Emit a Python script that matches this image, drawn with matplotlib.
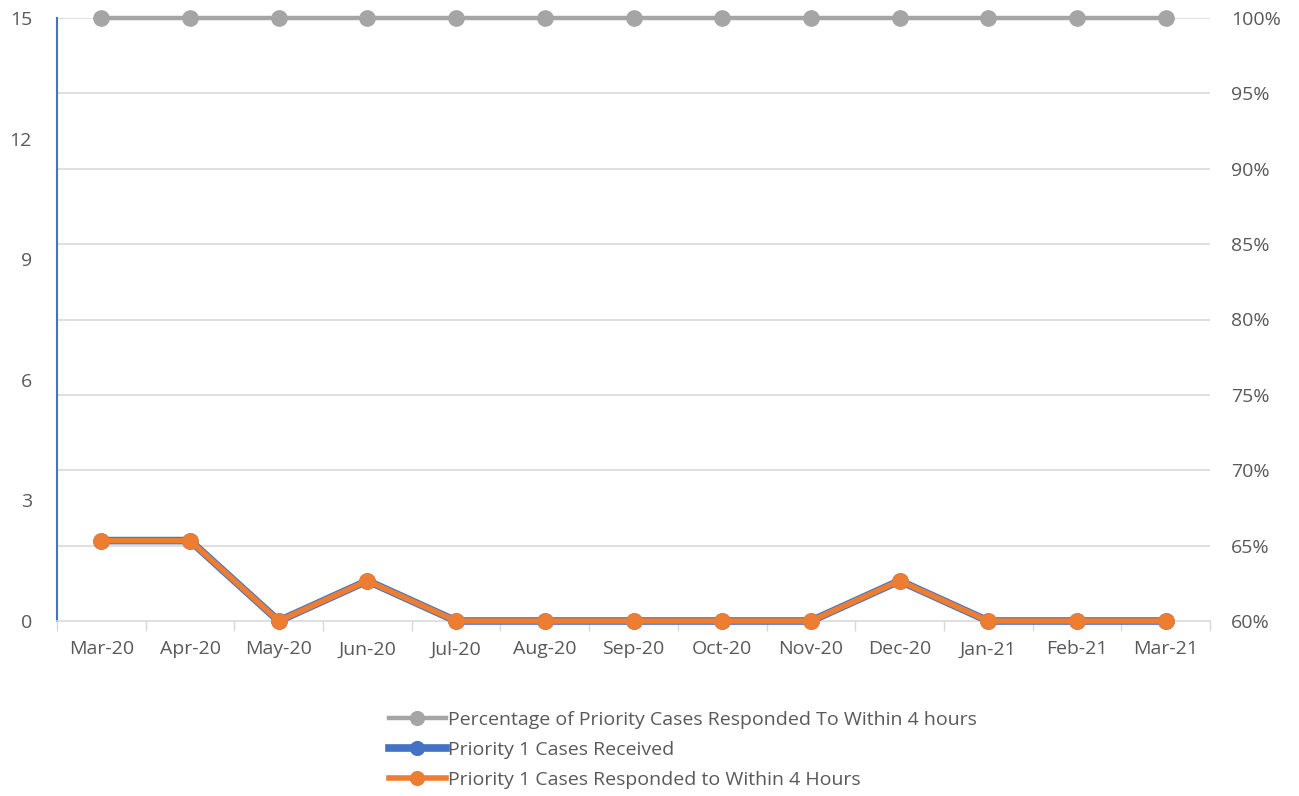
import matplotlib.pyplot as plt
import numpy as np

months = ["Mar-20", "Apr-20", "May-20", "Jun-20", "Jul-20", "Aug-20", "Sep-20",
          "Oct-20", "Nov-20", "Dec-20", "Jan-21", "Feb-21", "Mar-21"]
received = [2, 2, 0, 1, 0, 0, 0, 0, 0, 1, 0, 0, 0]
responded = [2, 2, 0, 1, 0, 0, 0, 0, 0, 1, 0, 0, 0]
pct = [100] * 13

plt.rcParams['font.family'] = ['Open Sans', 'DejaVu Sans']
txt = '#595959'

fig = plt.figure(figsize=(12.99, 7.96), dpi=100)
ax = fig.add_axes([57 / 1299, 1 - 621 / 796, (1210 - 57) / 1299, (621 - 18) / 796])
ax2 = ax.twinx()

x = np.arange(len(months))
l2, = ax.plot(x, received, color='#4472C4', lw=5.5, marker='o', ms=11, zorder=3,
              clip_on=False, label='Priority 1 Cases Received')
l3, = ax.plot(x, responded, color='#ED7D31', lw=4, marker='o', ms=11, zorder=4,
              clip_on=False, label='Priority 1 Cases Responded to Within 4 Hours')
l1, = ax2.plot(x, pct, color='#A5A5A5', lw=3.2, marker='o', ms=11, zorder=3,
               clip_on=False, label='Percentage of Priority Cases Responded To Within 4 hours')

ax.set_xlim(-0.5, len(months) - 0.5)
ax.set_ylim(0, 15)
ax.set_yticks([0, 3, 6, 9, 12, 15])
ax2.set_ylim(60, 100)
ax2.set_yticks(range(60, 101, 5))
ax2.set_yticklabels([f"{v}%" for v in range(60, 101, 5)])

ax.set_xticks(x)
ax.set_xticklabels(months)
ax.set_xticks(np.arange(-0.5, len(months), 1), minor=True)
ax.tick_params(axis='x', which='major', length=0, pad=14, labelsize=14, labelcolor=txt)
ax.tick_params(axis='x', which='minor', length=7, color='#D9D9D9', width=1)
ax.tick_params(axis='y', length=0, pad=18, labelsize=14, labelcolor=txt)
ax2.tick_params(axis='y', length=0, pad=15, labelsize=14, labelcolor=txt)

for yv in range(65, 101, 5):
    ax2.axhline(yv, color='#D9D9D9', lw=1.2, zorder=0)

for a in (ax, ax2):
    for s in ('top', 'right', 'left', 'bottom'):
        a.spines[s].set_visible(False)
ax.spines['left'].set_visible(True)
ax.spines['left'].set_color('#4472C4')
ax.spines['left'].set_linewidth(1.5)
ax.spines['bottom'].set_visible(True)
ax.spines['bottom'].set_color('#D9D9D9')
ax.spines['bottom'].set_linewidth(1.2)

ax2.set_zorder(ax.get_zorder() - 1)
ax.patch.set_visible(False)

fig.legend(handles=[l1, l2, l3], loc='center', bbox_to_anchor=(0.526, 0.058),
           frameon=False, fontsize=14, labelcolor=txt, handlelength=2.9,
           handletextpad=0.15, labelspacing=0.62, markerscale=0.9)

fig.savefig('out.png', dpi=100)
